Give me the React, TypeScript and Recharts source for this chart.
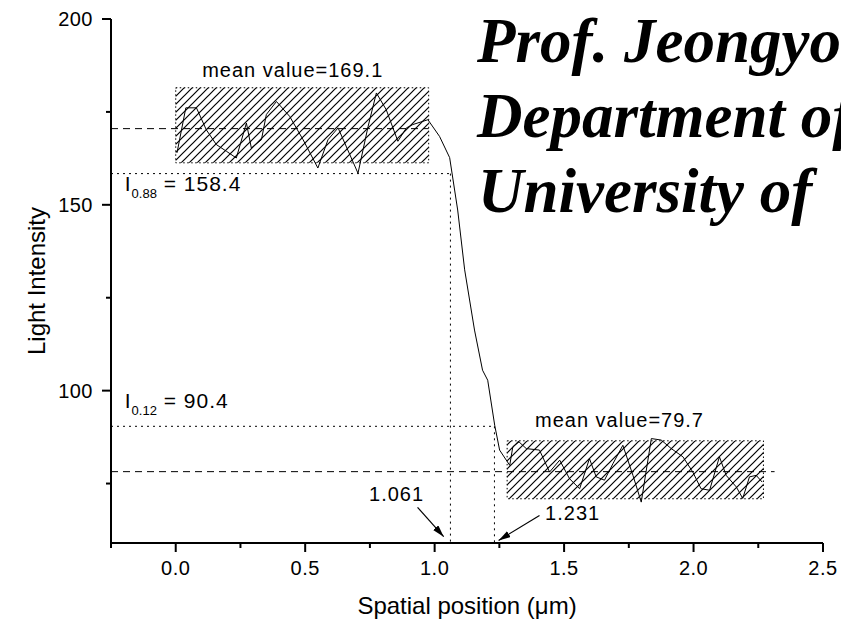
import React from 'react';
import {
  LineChart,
  Line,
  XAxis,
  YAxis,
  ReferenceArea,
  ReferenceLine,
  ReferenceDot,
} from 'recharts';

// intensity profile across the edge
const positions = [
  0.005, 0.039, 0.08, 0.118, 0.157, 0.196, 0.234, 0.273, 0.292, 0.331, 0.35, 0.389,
  0.44, 0.492, 0.549, 0.588, 0.627, 0.704, 0.743, 0.775, 0.813, 0.858, 0.891, 0.916,
  0.974, 1.019, 1.058, 1.089, 1.116, 1.154, 1.185, 1.205, 1.232, 1.251, 1.29,
  1.302, 1.326, 1.354, 1.405, 1.444, 1.483, 1.521, 1.56, 1.598, 1.624, 1.656, 1.689,
  1.727, 1.766, 1.798, 1.837, 1.875, 1.914, 1.959, 1.997, 2.029, 2.062, 2.1, 2.126,
  2.165, 2.19, 2.216, 2.242, 2.265,
];
const intensity = [
  164, 176.1, 176.1, 170.2, 166.2, 164.4, 162.6, 172.0, 165.3, 167.5, 174.3, 177.8,
  173.8, 167.5, 159.9, 167.5, 170.7, 158.5, 171.1, 180.1, 175.6, 167.1, 170.7, 171.6,
  172.9, 168.4, 162.7, 148.6, 132.5, 116.3, 105.5, 102.8, 90.7, 84.0, 79.9,
  84.9, 86.2, 84.4, 84.0, 78.1, 81.3, 76.3, 73.6, 81.7, 76.8, 75.9, 80.4,
  85.3, 77.2, 70.0, 87.1, 86.7, 84.4, 82.2, 78.1, 73.6, 73.2, 82.2, 77.2,
  74.1, 71.0, 76.8, 77.2, 75.4,
];

const xTicks = [-0.25, 0, 0.25, 0.5, 0.75, 1, 1.25, 1.5, 1.75, 2, 2.25, 2.5];
const yTicks = [75, 100, 125, 150, 175, 200];

// levels and edges
const highMean = 170.5;
const lowMean = 78.2;
const highBand = [161.3, 181.5];
const lowBand = [70.9, 86.5];
const highSpan = [0, 0.977];
const lowSpan = [1.28, 2.27];
const i88 = 158.4;
const i12 = 90.4;
const edge88 = 1.061;
const edge12 = 1.231;

const data = positions.map((p, i) => ({ pos: p, intensity: intensity[i] }));

const FONT = '"Liberation Sans", Arial, sans-serif';

const XTick = (props: any) => {
  const { x, y, payload } = props;
  const v = payload.value;
  const major = Math.abs(v * 2 - Math.round(v * 2)) < 1e-6;
  return (
    <g>
      <line x1={x} x2={x} y1={y} y2={y + (major ? 9 : 5)} stroke="#000" strokeWidth={2} />
      {major && (
        <text x={x} y={y + 32} textAnchor="middle" fontSize={20} letterSpacing={0.5} fontFamily={FONT} fill="#000">
          {v.toFixed(1)}
        </text>
      )}
    </g>
  );
};

const YTick = (props: any) => {
  const { x, y, payload } = props;
  const v = payload.value;
  const major = v % 50 === 0;
  return (
    <g>
      <line x1={x - (major ? 9 : 5)} x2={x} y1={y} y2={y} stroke="#000" strokeWidth={2} />
      {major && (
        <text x={x - 18} y={y} dy="0.35em" textAnchor="end" fontSize={20} letterSpacing={0.5} fontFamily={FONT} fill="#000">
          {v}
        </text>
      )}
    </g>
  );
};

const note = (txt: string, anchor: 'start' | 'middle' = 'middle') => (p: any) => (
  <text x={p.cx} y={p.cy} dy="0.35em" textAnchor={anchor} fontSize={20} letterSpacing={1} fontFamily={FONT} fill="#000">
    {txt}
  </text>
);

const levelNote = (sub: string, val: string) => (p: any) => (
  <text x={p.cx} y={p.cy} dy="0.35em" fontSize={21} letterSpacing={1} fontFamily={FONT} fill="#000">
    <tspan>I</tspan>
    <tspan fontSize={13} letterSpacing={0} dy={7}>{sub}</tspan>
    <tspan dy={-7}>{' = ' + val}</tspan>
  </text>
);

const arrow = (p: any) => (
  <line x1={p.x1} y1={p.y1} x2={p.x2} y2={p.y2} stroke="#000" strokeWidth={1.2} markerEnd="url(#arrowHead)" />
);

export default function App() {
  return (
    <div style={{ position: 'absolute', left: 0, top: 0, width: 841, height: 623, background: '#fff', overflow: 'hidden' }}>
      <LineChart width={841} height={623} data={data} margin={{ top: 19, right: 18, bottom: 5, left: 11 }}>
        <defs>
          <pattern id="hatch" patternUnits="userSpaceOnUse" width="8" height="8">
            <path d="M-2,2 L2,-2 M0,8 L8,0 M6,10 L10,6" stroke="#000" strokeWidth="1.2" />
          </pattern>
          <marker id="arrowHead" viewBox="0 0 12 7" refX="12" refY="3.5" markerWidth="12" markerHeight="7" orient="auto" markerUnits="userSpaceOnUse">
            <path d="M0,0 L12,3.5 L0,7 z" fill="#000" />
          </marker>
        </defs>
        <XAxis
          dataKey="pos"
          type="number"
          domain={[-0.25, 2.5]}
          ticks={xTicks}
          interval={0}
          allowDataOverflow
          height={75}
          tickSize={0}
          tickMargin={0}
          tickLine={false}
          tick={<XTick />}
          axisLine={{ stroke: '#000', strokeWidth: 2 }}
          label={{ value: 'Spatial position (\u03bcm)', position: 'insideBottom', offset: 4, fontSize: 24, fill: '#000', fontFamily: FONT }}
        />
        <YAxis
          type="number"
          domain={[59, 200]}
          ticks={yTicks}
          interval={0}
          allowDataOverflow
          width={100}
          tickSize={0}
          tickMargin={0}
          tickLine={false}
          tick={<YTick />}
          axisLine={{ stroke: '#000', strokeWidth: 2 }}
          label={{ value: 'Light Intensity', angle: -90, position: 'insideLeft', offset: 25, fontSize: 24, fill: '#000', fontFamily: FONT, style: { textAnchor: 'middle' } }}
        />

        <ReferenceArea x1={highSpan[0]} x2={highSpan[1]} y1={highBand[0]} y2={highBand[1]} fill="url(#hatch)" fillOpacity={1} stroke="#000" strokeDasharray="1.5 2.5" />
        <ReferenceArea x1={lowSpan[0]} x2={lowSpan[1]} y1={lowBand[0]} y2={lowBand[1]} fill="url(#hatch)" fillOpacity={1} stroke="#000" strokeDasharray="1.5 2.5" />

        <ReferenceLine segment={[{ x: -0.25, y: highMean }, { x: highSpan[1], y: highMean }]} stroke="#000" strokeDasharray="7 5" />
        <ReferenceLine segment={[{ x: -0.25, y: lowMean }, { x: 2.313, y: lowMean }]} stroke="#000" strokeDasharray="7 5" />
        <ReferenceLine segment={[{ x: -0.25, y: i88 }, { x: edge88, y: i88 }]} stroke="#000" strokeDasharray="2 4" />
        <ReferenceLine segment={[{ x: -0.25, y: i12 }, { x: edge12, y: i12 }]} stroke="#000" strokeDasharray="2 4" />
        <ReferenceLine segment={[{ x: edge88, y: i88 }, { x: edge88, y: 59 }]} stroke="#000" strokeDasharray="2 4" />
        <ReferenceLine segment={[{ x: edge12, y: i12 }, { x: edge12, y: 59 }]} stroke="#000" strokeDasharray="2 4" />

        <ReferenceLine segment={[{ x: 0.934, y: 68.6 }, { x: 1.035, y: 60.7 }]} shape={arrow} />
        <ReferenceLine segment={[{ x: 1.405, y: 66.4 }, { x: 1.247, y: 59.7 }]} shape={arrow} />

        <Line type="linear" dataKey="intensity" stroke="#000" strokeWidth={1} dot={false} isAnimationActive={false} />

        <ReferenceDot x={0.452} y={186.4} r={0} shape={note('mean value=169.1')} />
        <ReferenceDot x={1.714} y={92.0} r={0} shape={note('mean value=79.7')} />
        <ReferenceDot x={-0.197} y={155.7} r={0} shape={levelNote('0.88', '158.4')} />
        <ReferenceDot x={-0.197} y={97.4} r={0} shape={levelNote('0.12', '90.4')} />
        <ReferenceDot x={0.853} y={72.1} r={0} shape={note('1.061')} />
        <ReferenceDot x={1.533} y={67.0} r={0} shape={note('1.231')} />
      </LineChart>
      <svg width={841} height={623} style={{ position: 'absolute', left: 0, top: 0, pointerEvents: 'none' }}>
        <g fontFamily='"Liberation Serif", "Times New Roman", serif' fontWeight="bold" fontStyle="italic" fontSize={63} fill="#000">
          <text x={477} y={62}>Prof. Jeongyo</text>
          <text x={477} y={137}>Department of</text>
          <text x={478} y={212}>University of</text>
        </g>
      </svg>
    </div>
  );
}
